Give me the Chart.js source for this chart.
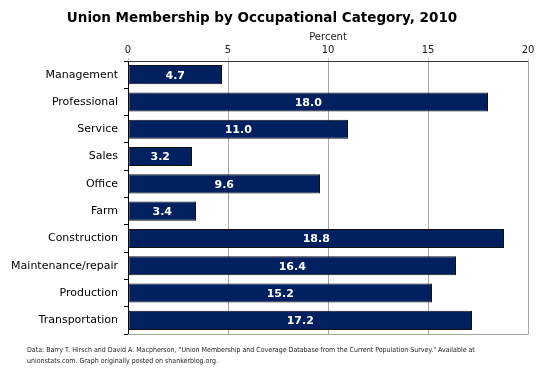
<!DOCTYPE html>
<html>
<head>
<meta charset="utf-8">
<script src="https://cdn.jsdelivr.net/npm/chart.js@4"></script>
<style>
    body { margin: 0; background: #fff; }
    #wrap { position: relative; width: 542px; height: 369px; }
    #note {
        position: absolute; left: 27px; top: 345px; width: 452px;
        font-family: "DejaVu Sans Condensed", "DejaVu Sans", sans-serif; font-size: 7px; line-height: 11px; color: #222;
    }
</style>
</head>
<body>
<div id="wrap">
    <canvas id="chart" width="542" height="369"></canvas>
    <div id="note">Data: Barry T. Hirsch and David A. Macpherson, "Union Membership and Coverage Database from the Current Population Survey." Available at unionstats.com. Graph originally posted on shankerblog.org.</div>
</div>
<script>
const categories = ['Management', 'Professional', 'Service', 'Sales', 'Office', 'Farm',
    'Construction', 'Maintenance/repair', 'Production', 'Transportation'];
const membership = [4.7, 18.0, 11.0, 3.2, 9.6, 3.4, 18.8, 16.4, 15.2, 17.2];
const titleText = 'Union Membership by Occupational Category, 2010';
const axisTitle = 'Percent';

// frame + title + value labels
const extras = {
    id: 'extras',
    beforeDatasetsDraw(chart) {
        const { ctx, chartArea: a } = chart;
        ctx.save();
        ctx.strokeStyle = '#a6a6a6';
        ctx.lineWidth = 1;
        ctx.beginPath();
        ctx.moveTo(a.left, a.bottom + 0.5);
        ctx.lineTo(a.right + 0.5, a.bottom + 0.5);
        ctx.lineTo(a.right + 0.5, a.top);
        ctx.stroke();
        ctx.restore();
    },
    afterDraw(chart) {
        const ctx = chart.ctx;
        ctx.save();
        ctx.fillStyle = '#000';
        ctx.font = 'bold 13.5px "DejaVu Sans", Verdana, sans-serif';
        ctx.textAlign = 'center';
        ctx.textBaseline = 'middle';
        ctx.fillText(titleText, 262, 18);
        ctx.fillStyle = '#fff';
        ctx.font = 'bold 11px "DejaVu Sans", Verdana, sans-serif';
        chart.getDatasetMeta(0).data.forEach((bar, i) => {
            const x = (bar.base + bar.x) / 2;
            ctx.fillText(membership[i].toFixed(1), x, bar.y + 1);
        });
        ctx.restore();
    }
};

new Chart(document.getElementById('chart'), {
    type: 'bar',
    data: {
        labels: categories,
        datasets: [{
            data: membership,
            backgroundColor: '#002060',
            borderColor: '#111',
            borderWidth: 1,
            borderSkipped: false,
            barPercentage: 0.7,
            categoryPercentage: 1
        }]
    },
    options: {
        indexAxis: 'y',
        responsive: false,
        animation: false,
        layout: { padding: { top: 27, left: 0, right: 14, bottom: 35 } },
        plugins: { legend: { display: false }, tooltip: { enabled: false } },
        scales: {
            x: {
                position: 'top',
                min: 0, max: 20,
                afterFit: s => { s.height = 34; },
                title: {
                    display: true, text: axisTitle, color: '#222',
                    font: { family: 'Tahoma, "DejaVu Sans", sans-serif', size: 10 },
                    padding: { top: 4, bottom: 0 }
                },
                ticks: {
                    stepSize: 5, color: '#222', padding: 2,
                    font: { family: 'Tahoma, "DejaVu Sans", sans-serif', size: 10 }
                },
                grid: { color: '#a6a6a6', tickLength: 3, tickColor: '#ccc' },
                border: { color: '#333' }
            },
            y: {
                afterFit: s => { s.width = 128; },
                ticks: {
                    color: '#000', padding: 6,
                    font: { family: '"DejaVu Sans", Verdana, sans-serif', size: 11 }
                },
                grid: { drawOnChartArea: false, tickLength: 4, tickColor: '#000', offset: true },
                border: { color: '#000' }
            }
        }
    },
    plugins: [extras]
});
</script>
</body>
</html>
